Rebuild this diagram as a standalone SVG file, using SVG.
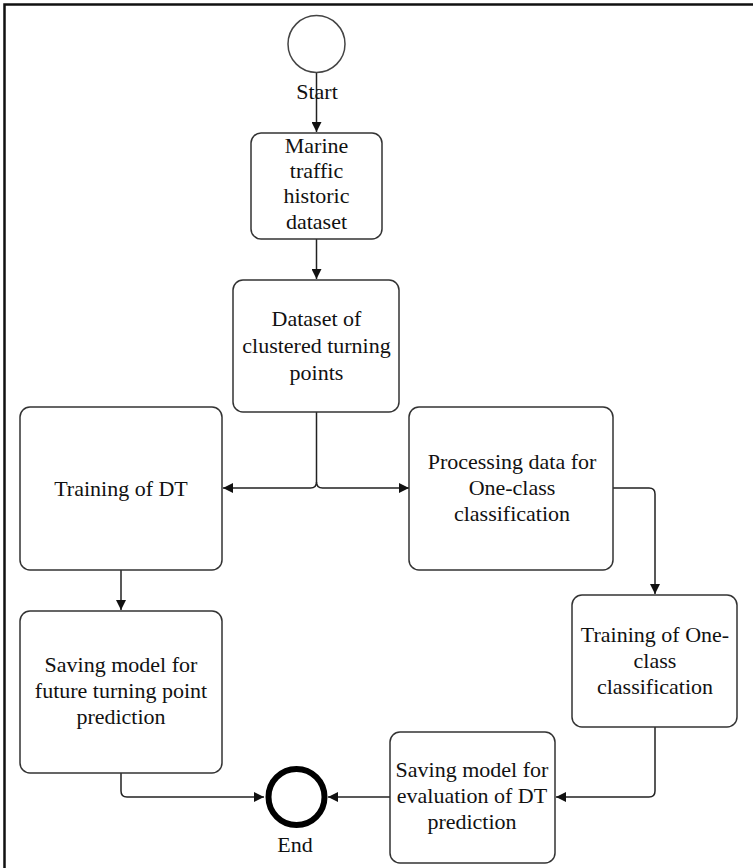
<svg xmlns="http://www.w3.org/2000/svg" width="753" height="868" viewBox="0 0 753 868">
<style>
.box{fill:#fff;stroke:#333;stroke-width:1.5}
.t{font-family:'Liberation Serif','DejaVu Serif',serif;font-size:22px;fill:#111;text-anchor:middle}
.c{fill:none;stroke:#222;stroke-width:1.5}
</style>
<defs>
<marker id="ah" viewBox="0 0 10 10" refX="10" refY="5" markerWidth="10" markerHeight="10" markerUnits="userSpaceOnUse" orient="auto">
<path d="M0,0 L10,5 L0,10 z" fill="#111"/>
</marker>
</defs>
<rect width="753" height="868" fill="#fff"/>
<path d="M4.5,868 V4.5 H753" fill="none" stroke="#111" stroke-width="2.5"/>
<g id="connectors">
<path class="c" d="M316.5,73 V132" marker-end="url(#ah)"/>
<path class="c" d="M316.5,239 V279" marker-end="url(#ah)"/>
<path class="c" d="M316.5,412 V482 Q316.5,488 310.5,488 H223" marker-end="url(#ah)"/>
<path class="c" d="M316.5,482 Q316.5,488 322.5,488 H409" marker-end="url(#ah)"/>
<path class="c" d="M613,488 H649 Q655,488 655,494 V594" marker-end="url(#ah)"/>
<path class="c" d="M121,570 V610" marker-end="url(#ah)"/>
<path class="c" d="M655,727 V791 Q655,797 649,797 H556" marker-end="url(#ah)"/>
<path class="c" d="M390,797 H328" marker-end="url(#ah)"/>
<path class="c" d="M121,773 V791 Q121,797 127,797 H264" marker-end="url(#ah)"/>
</g>
<g id="start">
<circle cx="316.5" cy="44" r="28.5" fill="#fff" stroke="#444" stroke-width="1.5"/>
<text class="t" x="317" y="99">Start</text>
</g>
<g id="marine">
<rect class="box" x="251" y="133" width="131" height="106" rx="10"/>
<text class="t" x="316.5" y="153">Marine</text>
<text class="t" x="316.5" y="178">traffic</text>
<text class="t" x="316.5" y="203">historic</text>
<text class="t" x="316.5" y="229">dataset</text>
</g>
<g id="clustered">
<rect class="box" x="233" y="280" width="166" height="132" rx="10"/>
<text class="t" x="316.5" y="326">Dataset of</text>
<text class="t" x="316.5" y="353">clustered turning</text>
<text class="t" x="316.5" y="380">points</text>
</g>
<g id="trainDT">
<rect class="box" x="20" y="407" width="202" height="163" rx="10"/>
<text class="t" x="121" y="496">Training of DT</text>
</g>
<g id="processing">
<rect class="box" x="409" y="407" width="204" height="163" rx="10"/>
<text class="t" x="512" y="469">Processing data for</text>
<text class="t" x="512" y="495">One-class</text>
<text class="t" x="512" y="521">classification</text>
</g>
<g id="trainOC">
<rect class="box" x="572" y="595" width="165" height="132" rx="10"/>
<text class="t" x="655" y="642">Training of One-</text>
<text class="t" x="655" y="668">class</text>
<text class="t" x="655" y="694">classification</text>
</g>
<g id="saveFuture">
<rect class="box" x="20" y="611" width="202" height="162" rx="10"/>
<text class="t" x="121" y="672">Saving model for</text>
<text class="t" x="121" y="698">future turning point</text>
<text class="t" x="121" y="724">prediction</text>
</g>
<g id="saveEval">
<rect class="box" x="390" y="732" width="165" height="131" rx="10"/>
<text class="t" x="472" y="777">Saving model for</text>
<text class="t" x="472" y="803">evaluation of DT</text>
<text class="t" x="472" y="829">prediction</text>
</g>
<g id="end">
<circle cx="296.5" cy="797" r="28" fill="#fff" stroke="#000" stroke-width="6"/>
<text class="t" x="295" y="852">End</text>
</g>
</svg>
